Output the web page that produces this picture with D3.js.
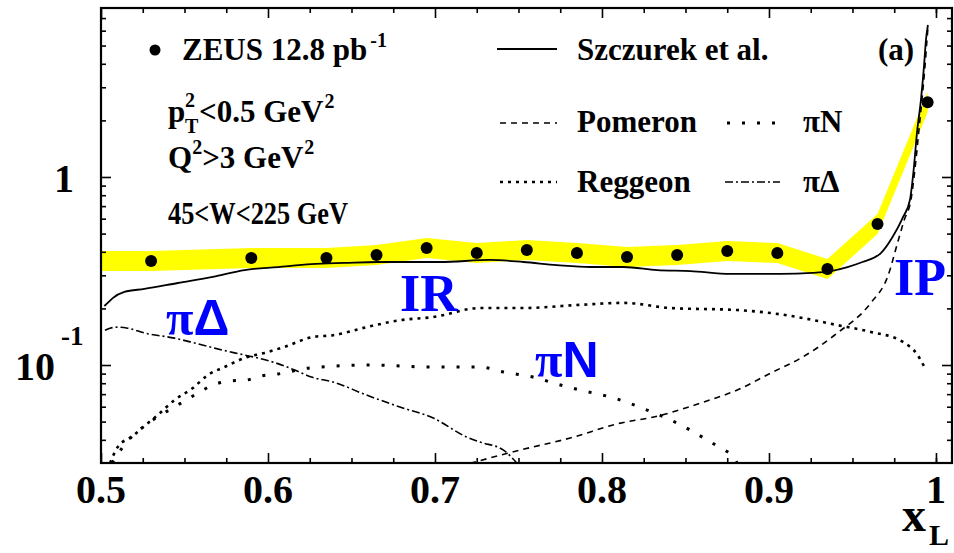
<!DOCTYPE html>
<html>
<head>
<meta charset="utf-8">
<script src="https://cdn.jsdelivr.net/npm/d3@7"></script>
<style>
  body { margin: 0; background: #fff; }
  svg { display: block; }
  text { font-family: "Liberation Serif", "Times New Roman", serif; fill: #000; }
</style>
</head>
<body>
<svg id="chart" width="954" height="553"></svg>
<script>
// ZEUS leading-neutron data, xL bins and cross-section ratio
const zeusX = [0.53, 0.59, 0.635, 0.665, 0.695, 0.725, 0.755, 0.785, 0.815, 0.845, 0.875, 0.905, 0.935, 0.965, 0.995];
const zeusY = [0.357, 0.371, 0.371, 0.385, 0.419, 0.394, 0.409, 0.394, 0.375, 0.385, 0.404, 0.394, 0.324, 0.562, 2.50];
// relative half-width of the systematic band
const zeusSys = [0.13, 0.13, 0.13, 0.13, 0.13, 0.13, 0.13, 0.13, 0.13, 0.13, 0.13, 0.13, 0.13, 0.13, 0.13];

// Szczurek et al. total
const totX = [0.502, 0.504, 0.507, 0.514, 0.526, 0.546, 0.567, 0.586, 0.606, 0.626, 0.646, 0.666, 0.703, 0.733, 0.753, 0.773, 0.793, 0.813, 0.833, 0.853, 0.877, 0.907, 0.926, 0.937, 0.947, 0.956, 0.967, 0.974, 0.980, 0.9844, 0.9868, 0.9886, 0.991, 0.9928, 0.994, 0.9952];
const totY = [0.206, 0.214, 0.227, 0.245, 0.254, 0.273, 0.294, 0.320, 0.332, 0.344, 0.349, 0.353, 0.353, 0.362, 0.353, 0.340, 0.332, 0.332, 0.320, 0.316, 0.305, 0.305, 0.309, 0.316, 0.332, 0.353, 0.394, 0.480, 0.605, 0.755, 1.13, 1.71, 2.57, 3.85, 5.35, 6.43];

// Pomeron exchange
const pomX = [0.721, 0.751, 0.781, 0.811, 0.831, 0.861, 0.881, 0.901, 0.920, 0.941, 0.961, 0.971, 0.978, 0.981, 0.985, 0.988, 0.9898, 0.9916, 0.9934, 0.9946, 0.9952];
const pomY = [0.0300, 0.0353, 0.0409, 0.0491, 0.0529, 0.0636, 0.0736, 0.0906, 0.110, 0.148, 0.214, 0.294, 0.480, 0.591, 0.755, 1.23, 1.78, 2.57, 3.85, 5.35, 6.2];

// Reggeon exchange
const regX = [0.5054, 0.510, 0.519, 0.526, 0.534, 0.544, 0.555, 0.564, 0.574, 0.586, 0.598, 0.610, 0.627, 0.639, 0.659, 0.679, 0.699, 0.727, 0.753, 0.787, 0.813, 0.841, 0.881, 0.901, 0.920, 0.941, 0.961, 0.980, 0.989, 0.9934];
const regY = [0.0301, 0.0366, 0.0419, 0.0474, 0.0542, 0.0651, 0.0755, 0.0885, 0.0976, 0.109, 0.116, 0.125, 0.141, 0.144, 0.159, 0.173, 0.180, 0.201, 0.201, 0.209, 0.214, 0.201, 0.196, 0.189, 0.178, 0.163, 0.150, 0.133, 0.113, 0.0964];

// pi N exchange
const piNX = [0.5066, 0.513, 0.531, 0.543, 0.552, 0.559, 0.567, 0.577, 0.587, 0.596, 0.606, 0.625, 0.663, 0.695, 0.727, 0.741, 0.761, 0.771, 0.787, 0.807, 0.827, 0.845, 0.861, 0.870, 0.878, 0.881];
const piNY = [0.0301, 0.0366, 0.0510, 0.0591, 0.0659, 0.0718, 0.0783, 0.0822, 0.0832, 0.0874, 0.0896, 0.0964, 0.100, 0.0976, 0.0976, 0.0918, 0.0853, 0.0802, 0.0736, 0.0668, 0.0576, 0.0491, 0.0409, 0.0366, 0.0328, 0.0301];

// pi Delta exchange
const piDX = [0.5024, 0.5054, 0.510, 0.516, 0.526, 0.544, 0.556, 0.568, 0.580, 0.592, 0.604, 0.616, 0.626, 0.639, 0.659, 0.679, 0.699, 0.719, 0.727, 0.741, 0.749];
const piDY = [0.153, 0.157, 0.159, 0.157, 0.148, 0.139, 0.131, 0.123, 0.116, 0.110, 0.103, 0.0940, 0.0863, 0.0812, 0.0692, 0.0598, 0.0522, 0.0414, 0.0389, 0.0353, 0.0301];

// axis ticks
const xMajor = [0.5, 0.6, 0.7, 0.8, 0.9, 1.0];
const xMajorLabels = ["0.5", "0.6", "0.7", "0.8", "0.9", "1"];
const xMinor = [0.525, 0.55, 0.575, 0.625, 0.65, 0.675, 0.725, 0.75, 0.775, 0.825, 0.85, 0.875, 0.925, 0.95, 0.975, 1.0];
const yMajor = [0.1, 1];
const yMinor = [0.04, 0.05, 0.06, 0.07, 0.08, 0.09, 0.2, 0.3, 0.4, 0.5, 0.6, 0.7, 0.8, 0.9, 2, 3, 4, 5, 6, 7];

const svg = d3.select("#chart");
const L = 101, R = 952, T = 8, B = 463;

const x = d3.scaleLinear().domain([0.5, 1.0096]).range([L, R]);
const y = d3.scaleLog().domain([0.03012, 7.92]).range([B, T]);

svg.append("rect").attr("width", 954).attr("height", 553).attr("fill", "#fff");

svg.append("clipPath").attr("id", "plotclip")
  .append("rect").attr("x", L).attr("y", T).attr("width", R - L).attr("height", B - T);

const plot = svg.append("g").attr("clip-path", "url(#plotclip)");

// systematic band
const bandData = [{ x: 0.5, y: zeusY[0], e: zeusSys[0] }]
  .concat(zeusX.map((v, i) => ({ x: v, y: zeusY[i], e: zeusSys[i] })));
plot.append("path")
  .datum(bandData)
  .attr("fill", "#ffff00")
  .attr("d", d3.area()
    .x(d => x(d.x))
    .y0(d => y(d.y / (1 + d.e)))
    .y1(d => y(d.y * (1 + d.e))));

const line = d3.line().x(d => x(d[0])).y(d => y(d[1])).curve(d3.curveMonotoneX);
const zip = (a, b) => a.map((v, i) => [v, b[i]]);

const styles = {
  tot: { w: 1.8, dash: null },
  pom: { w: 1.6, dash: "6,5" },
  reg: { w: 2.6, dash: "3,5" },
  piN: { w: 3, dash: "3,12" },
  piD: { w: 1.6, dash: "8,3,2,3" }
};

function drawCurve(xs, ys, st) {
  plot.append("path")
    .datum(zip(xs, ys))
    .attr("fill", "none")
    .attr("stroke", "#000")
    .attr("stroke-width", st.w)
    .attr("stroke-dasharray", st.dash)
    .attr("d", line);
}
drawCurve(piDX, piDY, styles.piD);
drawCurve(piNX, piNY, styles.piN);
drawCurve(regX, regY, styles.reg);
drawCurve(pomX, pomY, styles.pom);
drawCurve(totX, totY, styles.tot);

// data points
plot.selectAll("circle.pt")
  .data(zip(zeusX, zeusY))
  .join("circle")
  .attr("class", "pt")
  .attr("cx", d => x(d[0]))
  .attr("cy", d => y(d[1]))
  .attr("r", 6)
  .attr("fill", "#000");

// axes: ticks point into the frame on all four sides
function ticks(axisGen, pos, vals, size) {
  const g = svg.append("g").attr("transform", pos)
    .call(axisGen.tickValues(vals).tickSizeInner(-size).tickSizeOuter(0).tickFormat(""));
  g.select(".domain").remove();
  g.selectAll(".tick line").attr("stroke", "#000").attr("stroke-width", 1.6);
}
ticks(d3.axisBottom(x), `translate(0,${B})`, xMajor, 10);
ticks(d3.axisBottom(x), `translate(0,${B})`, xMinor, 5);
ticks(d3.axisTop(x), `translate(0,${T})`, xMajor, 10);
ticks(d3.axisTop(x), `translate(0,${T})`, xMinor, 5);
ticks(d3.axisLeft(y), `translate(${L},0)`, yMajor, 10);
ticks(d3.axisLeft(y), `translate(${L},0)`, yMinor, 5);
ticks(d3.axisRight(y), `translate(${R},0)`, yMajor, 10);
ticks(d3.axisRight(y), `translate(${R},0)`, yMinor, 5);

svg.append("rect")
  .attr("x", L).attr("y", T).attr("width", R - L).attr("height", B - T)
  .attr("fill", "none").attr("stroke", "#000").attr("stroke-width", 2.2);

// tick labels
svg.selectAll("text.xl")
  .data(xMajor)
  .join("text")
  .attr("class", "xl")
  .attr("x", d => x(d))
  .attr("y", 503)
  .attr("text-anchor", "middle")
  .attr("font-size", 40)
  .attr("font-weight", "bold")
  .text((d, i) => xMajorLabels[i]);

svg.append("text")
  .attr("x", 74).attr("y", y(1) + 15)
  .attr("text-anchor", "end")
  .attr("font-size", 40).attr("font-weight", "bold")
  .text("1");
const tenLbl = svg.append("text")
  .attr("x", 15).attr("y", y(0.1) + 15)
  .attr("font-size", 40).attr("font-weight", "bold");
tenLbl.append("tspan").text("10");
tenLbl.append("tspan").attr("dx", 6).attr("dy", -35).attr("font-size", 27).text("-1");

// axis title
const xt = svg.append("g").attr("font-weight", "bold");
xt.append("text").attr("x", 902).attr("y", 531).attr("font-size", 48).text("x");
xt.append("text").attr("x", 929).attr("y", 545).attr("font-size", 30).text("L");

// legend
const leg = svg.append("g").attr("font-size", 31).attr("font-weight", "bold");
leg.append("circle").attr("cx", 155).attr("cy", 50).attr("r", 5.5).attr("fill", "#000");
const zt = leg.append("text").attr("x", 182).attr("y", 60);
zt.append("tspan").text("ZEUS 12.8 pb");
zt.append("tspan").attr("dx", 3).attr("dy", -13).attr("font-size", 20).text("-1");

function legLine(x1, x2, yy, st) {
  leg.append("line").attr("x1", x1).attr("x2", x2).attr("y1", yy).attr("y2", yy)
    .attr("stroke", "#000").attr("stroke-width", st.w).attr("stroke-dasharray", st.dash);
}
legLine(497, 557, 49, styles.tot);
leg.append("text").attr("x", 577).attr("y", 60).text("Szczurek et al.");
leg.append("text").attr("x", 878).attr("y", 60).text("(a)");
legLine(500, 557, 123, styles.pom);
leg.append("text").attr("x", 577).attr("y", 132).text("Pomeron");
legLine(727, 782, 123, styles.piN);
leg.append("text").attr("x", 803).attr("y", 132).text("πN");
legLine(500, 557, 182, styles.reg);
leg.append("text").attr("x", 577).attr("y", 192).text("Reggeon");
legLine(725, 780, 182, styles.piD);
leg.append("text").attr("x", 803).attr("y", 192).text("πΔ");

// kinematic cuts
const c1 = leg.append("text").attr("x", 168).attr("y", 122);
c1.append("tspan").text("p");
c1.append("tspan").attr("x", 185).attr("y", 107).attr("font-size", 20).text("2");
c1.append("tspan").attr("x", 185).attr("y", 133).attr("font-size", 20).text("T");
c1.append("tspan").attr("x", 199).attr("y", 122).text("<0.5 GeV");
c1.append("tspan").attr("dx", 1).attr("dy", -14).attr("font-size", 20).text("2");

const c2 = leg.append("text").attr("x", 168).attr("y", 168);
c2.append("tspan").text("Q");
c2.append("tspan").attr("dy", -14).attr("font-size", 20).text("2");
c2.append("tspan").attr("dy", 14).text(">3 GeV");
c2.append("tspan").attr("dx", 1).attr("dy", -14).attr("font-size", 20).text("2");

leg.append("text").attr("x", 168).attr("y", 224)
  .attr("textLength", 180).attr("lengthAdjust", "spacingAndGlyphs")
  .text("45<W<225 GeV");

// component labels
const blue = svg.append("g").attr("font-weight", "bold");
blue.append("text").attr("x", 400).attr("y", 311).attr("font-size", 52).style("fill", "#0000ff").text("IR");
blue.append("text").attr("x", 894).attr("y", 295).attr("font-size", 52).style("fill", "#0000ff").text("IP");
const pn = blue.append("text").attr("x", 535).attr("y", 377).attr("font-size", 50).style("fill", "#0000ff");
pn.append("tspan").text("π");
pn.append("tspan").style("font-family", "'Liberation Sans', Arial, sans-serif").text("N");
const pd = blue.append("text").attr("x", 166).attr("y", 335).attr("font-size", 50).style("fill", "#0000ff");
pd.append("tspan").text("π");
pd.append("tspan").style("font-family", "'Liberation Sans', Arial, sans-serif").text("Δ");
</script>
</body>
</html>
